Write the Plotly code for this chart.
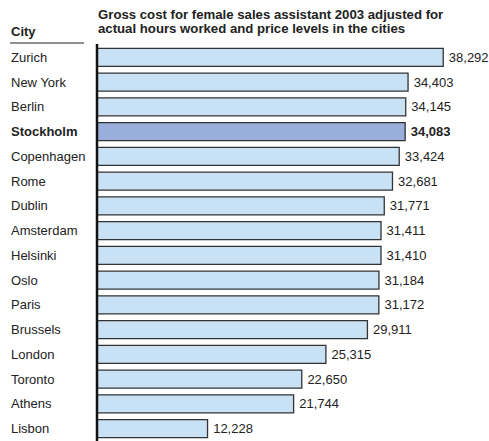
import plotly.graph_objects as go

cities = ["Zurich", "New York", "Berlin", "Stockholm", "Copenhagen", "Rome", "Dublin",
          "Amsterdam", "Helsinki", "Oslo", "Paris", "Brussels", "London", "Toronto",
          "Athens", "Lisbon"]
costs = [38292, 34403, 34145, 34083, 33424, 32681, 31771, 31411, 31410, 31184, 31172,
         29911, 25315, 22650, 21744, 12228]
highlight = "Stockholm"

W, H = 489, 441
L, T = 97, 45
plot_w = W - L
plot_h = H - T
FONT = "Liberation Sans, Arial"


def py(ypix):
    """Convert a pixel offset from the top of the page to a paper y coordinate."""
    return (H - ypix) / plot_h


def px(xpix):
    """Convert a pixel offset from the left of the page to a paper x coordinate."""
    return (xpix - L) / plot_w


fill = ["#99aedb" if c == highlight else "#c9e1f5" for c in cities]
# a thin space keeps the value a little away from the bar end
value_text = ["\u2009" + (f"<b>{v:,}</b>" if c == highlight else f"{v:,}")
              for c, v in zip(cities, costs)]

fig = go.Figure(go.Bar(
    x=costs, y=cities, orientation="h",
    marker=dict(color=fill, line=dict(color="#333333", width=1.3)),
    width=0.73,
    text=value_text, textposition="outside", cliponaxis=False,
    textfont=dict(family=FONT, size=13, color="#222222"),
    hoverinfo="skip",
))

# city names on the left, left-aligned
for c in cities:
    fig.add_annotation(
        x=px(9), xref="paper", y=c, yref="y",
        text=f"<b>{c}</b>" if c == highlight else c,
        xanchor="left", yanchor="middle", showarrow=False,
        font=dict(family=FONT, size=13, color="#222222"),
    )

# column header and underline
fig.add_annotation(
    x=px(9), xref="paper", y=py(31), yref="paper",
    text="<b>City</b>", xanchor="left", yanchor="middle", showarrow=False,
    font=dict(family=FONT, size=13, color="#222222"),
)
fig.add_shape(type="line", xref="paper", yref="paper",
              x0=px(10), x1=px(84), y0=py(43), y1=py(43),
              line=dict(color="#222222", width=1))

# chart title, two lines
title_lines = ["Gross cost for female sales assistant 2003 adjusted for",
               "actual hours worked and price levels in the cities"]
for line, ypix in zip(title_lines, [14, 29]):
    fig.add_annotation(
        x=px(96), xref="paper", y=py(ypix), yref="paper",
        text=f"<b>{line}</b>",
        xanchor="left", yanchor="middle", align="left", showarrow=False,
        font=dict(family=FONT, size=13.2, color="#222222"),
    )

fig.update_layout(
    width=W, height=H,
    margin=dict(l=L, r=0, t=T, b=0),
    paper_bgcolor="white", plot_bgcolor="white",
    showlegend=False,
    xaxis=dict(range=[0, plot_w * 110.6], visible=False, fixedrange=True),
    yaxis=dict(autorange="reversed", showticklabels=False, ticks="",
               showgrid=False, zeroline=False,
               showline=False, fixedrange=True),
)
# vertical axis line at the bar base
fig.add_shape(type="line", xref="paper", yref="paper", x0=0, x1=0, y0=0, y1=py(44),
              line=dict(color="#111111", width=2.5))

fig.write_html("out.html", config={"displayModeBar": False})
